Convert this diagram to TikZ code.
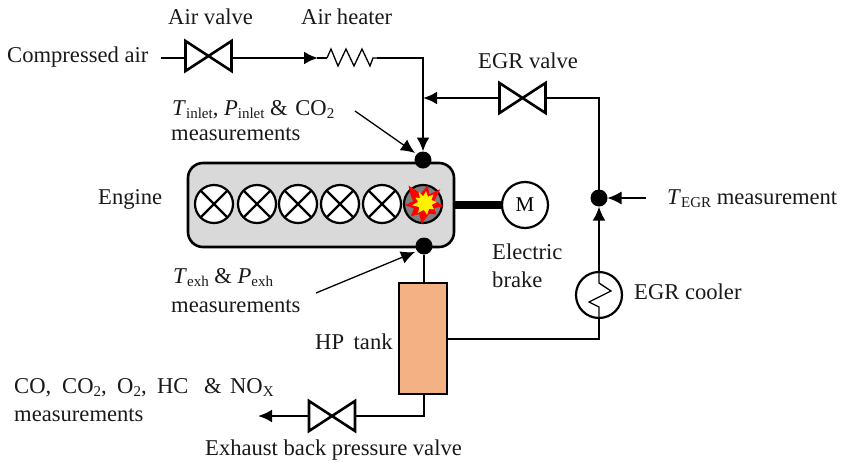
\documentclass[tikz,border=0pt]{standalone}
\usepackage{fontspec}
\setmainfont{Liberation Serif}
\usetikzlibrary{arrows.meta}
\definecolor{tankfill}{HTML}{F4B183}
\definecolor{enginefill}{HTML}{D9D9D9}
\newcommand{\sbs}[1]{\raisebox{-0.32ex}{\fontsize{15}{15}\selectfont #1}}
\newcommand{\valvebow}[1]{\draw[valveline] (#1.north west) -- (#1.south east) -- (#1.north east) -- (#1.south west) -- cycle;}
\tikzset{
  x=1pt,y=-1pt,
  lbl/.style={anchor=base west,inner sep=0pt,font=\fontsize{22.6}{26}\selectfont,text=black!90},
  pipe/.style={line width=2.6pt,line join=miter},
  thinline/.style={line width=1.3pt},
  arr/.style={-{Latex[length=14pt,width=13pt]}},
  valvenode/.style={minimum width=46pt,minimum height=30pt,inner sep=0pt,outer sep=0pt},
  valveline/.style={line width=2.6pt,line join=miter},
  dotnode/.style={circle,fill=black,minimum size=17pt,inner sep=0pt,outer sep=0pt},
  cyl/.style={circle,draw=black,line width=2.2pt,fill=white,minimum size=38pt,inner sep=0pt,outer sep=0pt},
  ringnode/.style={circle,draw=black,line width=2.2pt,fill=white,minimum size=46pt,inner sep=0pt,outer sep=0pt},
}
\newcommand{\cylx}[1]{\draw[line width=2.2pt] (#1.45) -- (#1.225) (#1.135) -- (#1.315);}
\begin{document}
\begin{tikzpicture}
\useasboundingbox (0,0) rectangle (844,461);
% engine
\node[draw=black,line width=2.6pt,fill=enginefill,rounded corners=15pt,minimum width=266pt,minimum height=84pt,inner sep=0pt,outer sep=0pt] (engine) at (321,205) {};
\foreach \n/\xx in {c1/214,c2/257,c3/298,c4/340,c5/382}{
  \node[cyl] (\n) at (\xx,204) {};
  \cylx{\n}
}
\node[cyl,fill=black!50] (c6) at (423,204) {};
% burst
\begin{scope}[shift={(424,204)}]
\fill[red] (-130:24) -- (-108:11) -- (-78:19) -- (-62:11) -- (-42:22) -- (-18:11) -- (6:20) -- (22:11) -- (40:16) -- (62:11) -- (97:20) -- (115:11) -- (137:18) -- (155:11) -- (177:19) -- (-165:11) -- (-150:15) -- cycle;
\end{scope}
\begin{scope}[shift={(425,203)}]
\fill[yellow] (-120:13) -- (-105:7) -- (-85:12) -- (-65:7) -- (-45:12) -- (-25:7) -- (-5:12) -- (15:7) -- (35:11) -- (55:7) -- (80:12) -- (100:7) -- (125:12) -- (145:7) -- (170:13) -- (-170:7) -- (-150:11) -- (-135:7) -- cycle;
\end{scope}
% motor
\node[ringnode] (motor) at (525,205) {\fontsize{21}{24}\selectfont M};
\draw[line width=8pt] (engine.east |- motor.west) -- (motor.west);
% dots
\node[dotnode] (dtop) at (423,160) {};
\node[dotnode] (dbot) at (424,246) {};
\node[dotnode] (degr) at (599,198) {};
% tank
\node[draw=black,line width=2.6pt,fill=tankfill,minimum width=48pt,minimum height=111pt,inner sep=0pt,outer sep=0pt] (tank) at (423,338.5) {};
% valves
\node[valvenode] (airv) at (208.5,56) {};
\node[valvenode] (egrv) at (522.5,98) {};
\node[valvenode] (bpv) at (332,416) {};
\valvebow{airv}\valvebow{egrv}\valvebow{bpv}
% cooler
\node[ringnode] (cooler) at (599,295) {};
\coordinate (ctop) at (599,283);
\coordinate (cbot) at (599,307);
\draw[line width=1.3pt] (cooler.north) -- (ctop) -- (611,291) -- (589,302) -- (cbot) -- (cooler.south);
% free ends and bends
\coordinate (airin) at (161,58);
\coordinate (heatin) at (327,58);
\coordinate (heatout) at (377,58);
\coordinate (corner1) at (423,58);
\coordinate (merge) at (423,98);
\coordinate (egrcorner) at (599,98);
\coordinate (coolcorner) at (599,339);
\coordinate (bpcorner) at (424,416);
\coordinate (exhout) at (258,416);
\coordinate (tegr) at (646,198);
\coordinate (minlet) at (355,111);
\coordinate (minletTip) at (415,153);
\coordinate (mexh) at (316,293);
\coordinate (mexhTip) at (415,252);
% heater
\draw[line width=1.3pt,line join=miter] (heatin) -- (331,49) -- (338,66) -- (346,49) -- (354,66) -- (362,49) -- (370,66) -- (373,58) -- (heatout);
% pipes
\draw[pipe] (airin) -- (airv.west |- airin);
\draw[pipe,arr] (airv.east |- airin) -- (318,58);
\draw[pipe] (317,58) -- (heatin);
\draw[pipe,arr] (heatout) -- (corner1) -- (dtop.north);
\draw[pipe,arr] (egrv.west) -- (merge);
\draw[pipe] (egrv.east) -- (egrcorner) -- (degr.north);
\draw[pipe,arr] (cooler.north) -- (degr.south);
\draw[pipe] (tank.east |- coolcorner) -- (coolcorner) -- (cooler.south);
\draw[pipe] (dbot.south) -- (tank.north -| dbot);
\draw[pipe] (tank.south -| bpcorner) -- (bpcorner) -- (bpv.east);
\draw[pipe,arr] (bpv.west) -- (exhout);
% measurement arrows
\draw[thinline,arr] (tegr) -- (degr.east);
\draw[thinline,arr] (minlet) -- (minletTip);
\draw[thinline,arr] (mexh) -- (mexhTip);
% labels
\node[lbl] (l1) at (168,24) {Air valve};
\node[lbl] (l2) at (301,24) {Air heater};
\node[lbl] (l3) at (7,62) {Compressed air};
\node[lbl] (l4) at (172,115) {\textit{T}\sbs{inlet}, \textit{P}\sbs{inlet} \& \hspace{2pt}CO\sbs{2}};
\node[lbl] (l5) at (171,140) {measurements};
\node[lbl] (l6) at (478,68) {EGR valve};
\node[lbl] (l7) at (98,204) {Engine};
\node[lbl] (l8) at (492,259) {Electric};
\node[lbl] (l9) at (492,287) {brake};
\node[lbl] (l10) at (634,299) {EGR cooler};
\node[lbl] (l11) at (667,204) {\textit{T}\sbs{EGR} measurement};
\node[lbl] (l12) at (315,349) {HP\hspace{4pt} tank};
\node[lbl] (l13) at (173,283) {\textit{T}\sbs{exh} \& \textit{P}\sbs{exh}};
\node[lbl] (l14) at (171,312) {measurements};
\node[lbl] (l15) at (14,393) {\makebox[48pt][l]{CO,}\makebox[55pt][l]{CO\sbs{2},}\makebox[40pt][l]{O\sbs{2},}\makebox[47pt][l]{HC}\makebox[26pt][l]{\&}NO\sbs{X}};
\node[lbl] (l16) at (14,421) {measurements};
\node[lbl] (l17) at (205,455) {Exhaust back pressure valve};
\end{tikzpicture}
\end{document}
